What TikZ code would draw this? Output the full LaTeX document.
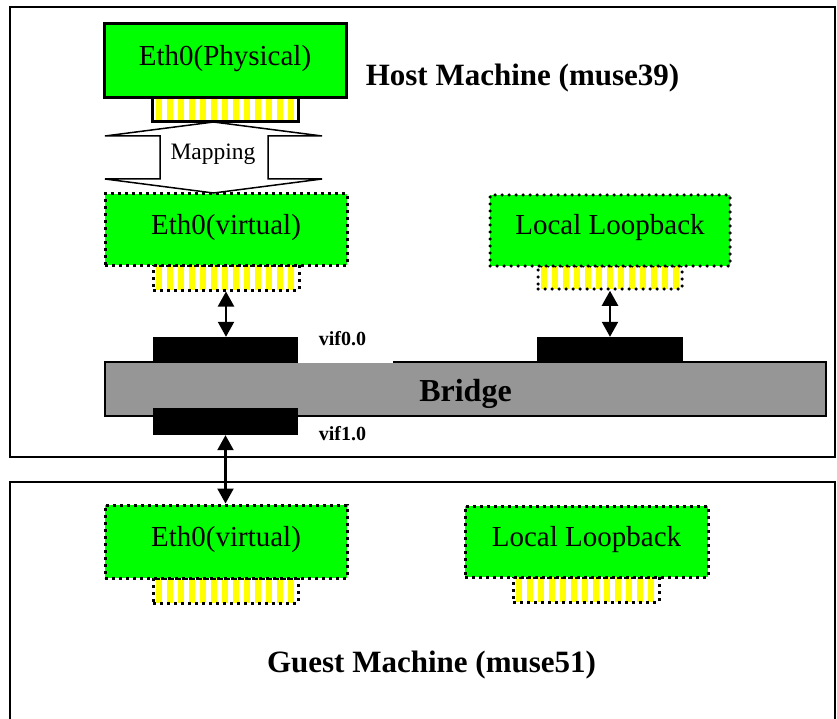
\documentclass[tikz,border=0pt]{standalone}
\usepackage{fontspec}
\setmainfont{Liberation Serif}
\usetikzlibrary{arrows.meta}
\definecolor{nicgreen}{RGB}{0,255,0}
\definecolor{stripyellow}{RGB}{255,255,0}
\definecolor{bridgegray}{RGB}{150,150,150}

\tikzset{
  machine/.style={draw=black, line width=2pt},
  nicbox/.style={fill=nicgreen, inner sep=0pt, text height=20pt, text depth=11pt,
    font=\fontsize{29}{34}\selectfont},
  solidedge/.style={draw=black, line width=3pt},
  squaredots/.style={draw=black, line width=3pt, dash pattern=on 3pt off 4pt},
  rounddots/.style={draw=black, line width=3.5pt, line cap=round, dash pattern=on 0pt off 7pt},
  portstrip/.style={fill=white, inner sep=0pt,
    path picture={\foreach \k in {0,...,12}{
      \fill[stripyellow] ([xshift=3pt+\k*11pt]path picture bounding box.south west) rectangle ++(6pt,40pt);}}},
  vifblock/.style={fill=black, minimum width=145pt, inner sep=0pt},
  link/.style={line width=2.2pt, {Triangle[width=16pt,length=15pt]}-{Triangle[width=16pt,length=15pt]}},
  viflabel/.style={font=\bfseries\fontsize{20}{24}\selectfont, inner sep=0pt, anchor=base},
  machinetitle/.style={font=\bfseries\fontsize{31}{36}\selectfont, inner sep=0pt, anchor=base},
}

\begin{document}
\begin{tikzpicture}[x=1pt, y=-1pt]
  % page
  \fill[white] (0,0) rectangle (837,719);
  \useasboundingbox (0,0) rectangle (837,719);

  % machine frames
  \draw[machine] (10,7) rectangle (835,457);
  \draw[machine] (10,482) rectangle (835,725);

  % host: physical interface and its port
  \node[portstrip, solidedge, minimum width=146pt, minimum height=24pt] (pstrip) at (225.5,110) {};
  \node[nicbox, solidedge, minimum width=242pt, minimum height=74pt] (phys) at (225,61) {Eth0(Physical)};

  % mapping block arrow
  \draw[line width=1.5pt, fill=white]
    (213.5,122) -- (322,136) -- (268,136) -- (268,179) -- (322,179) -- (213.5,193)
    -- (105,179) -- (160,179) -- (160,136) -- (105,136) -- cycle;
  \node[font=\fontsize{23.5}{28}\selectfont, inner sep=0pt, anchor=base] (maplbl) at (213,160) {Mapping};

  % host: virtual interfaces
  \node[portstrip, squaredots, minimum width=146pt, minimum height=25pt] (hethstrip) at (226,277.5) {};
  \node[nicbox, squaredots, minimum width=242pt, minimum height=71pt] (heth) at (226,229.5) {Eth0(virtual)};
  \node[portstrip, rounddots, minimum width=144pt, minimum height=23pt] (hllstrip) at (610,277.5) {};
  \node[nicbox, rounddots, minimum width=240pt, minimum height=71pt] (hll) at (610,230.5) {Local Loopback};

  % bridge with its ports
  \node[draw=black, line width=1.5pt, fill=bridgegray, minimum width=721pt, minimum height=54pt,
        inner sep=0pt, text height=30pt, text depth=6pt,
        font=\bfseries\fontsize{32}{38}\selectfont] (bridge) at (465.5,389) {Bridge};
  \node[vifblock, minimum height=26pt] (vif0) at (225.5,350) {};
  \node[vifblock, minimum height=25pt, minimum width=146pt] (vifll) at (610,349.5) {};
  \node[vifblock, minimum height=27pt] (vif1) at (225.5,421.5) {};
  \fill[white] (298,354) rectangle (393,362.8);
  \node[viflabel] (vif0lbl) at (342.5,345) {vif0.0};
  \node[viflabel] (vif1lbl) at (342.5,440) {vif1.0};

  \node[machinetitle] (hosttitle) at (522.5,86) {Host Machine (muse39)};

  % guest interfaces
  \node[portstrip, squaredots, minimum width=145pt, minimum height=25pt] (gethstrip) at (225.5,590.5) {};
  \node[nicbox, squaredots, minimum width=242pt, minimum height=73pt] (geth) at (226,541.5) {Eth0(virtual)};
  \node[portstrip, squaredots, minimum width=146pt, minimum height=25pt] (gllstrip) at (586,589.5) {};
  \node[nicbox, squaredots, minimum width=243pt, minimum height=71pt] (gll) at (586.5,541.5) {Local Loopback};

  \node[machinetitle] (guesttitle) at (431.5,672) {Guest Machine (muse51)};

  % links
  \draw[link] (hethstrip.south) -- (hethstrip.south |- vif0.north);
  \draw[link] (hllstrip.south) -- (hllstrip.south |- vifll.north);
  \draw[link] (vif1.south) -- (vif1.south |- geth.north);
\end{tikzpicture}
\end{document}
